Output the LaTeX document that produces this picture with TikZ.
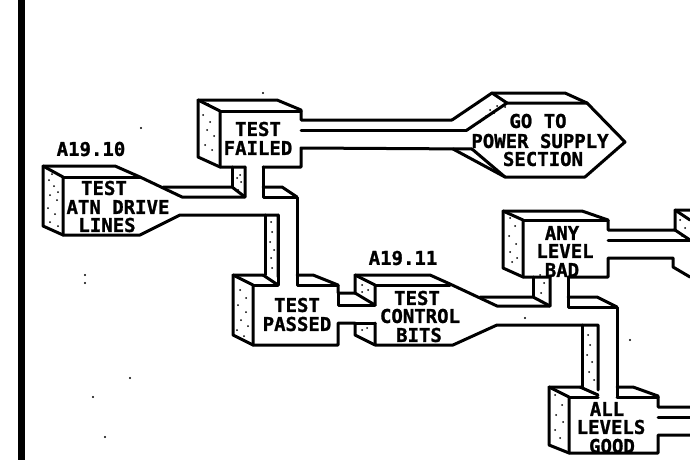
\documentclass[tikz,border=0pt]{standalone}
\usepackage{fontspec}
\setmonofont[BoldFeatures={FakeBold=1.2}]{DejaVu Sans Mono}
\usepackage{xcolor}
\usepackage{tikz}

\tikzset{
    wall/.style={line width=3pt, line join=round, line cap=round},
    lbl/.style={font=\ttfamily\bfseries\fontsize{19}{19}\selectfont, inner sep=0pt}
}

\begin{document}
\begin{tikzpicture}[x=1pt,y=-1pt]
    \useasboundingbox (0,0) rectangle (690,460);
    % Page edge
    \fill (18,0) rectangle (25,460);

    % Test atn drive lines
    \draw[wall] (245,167) -- (245,197) -- (182,197) -- (140,177) -- (115,166) -- (43,166) -- (43,226) -- (63,235) -- (140,235) -- (180,215) -- (278,215) -- (278,277);
    \draw[wall] (43,166) -- (63,177) -- (63,235);
    \draw[wall] (63,177) -- (140,177);
    \draw[wall] (163,187) -- (232,187) -- (245,197);
    \draw[wall] (232,187) -- (232,167);
    \draw[wall] (265,215) -- (265,275);

    % Test failed
    \draw[wall] (245,167) -- (220,167) -- (198,157) -- (198,100) -- (277,100) -- (301,110) -- (301,120) -- (452,120);
    \draw[wall] (198,100) -- (220,111) -- (220,167);
    \draw[wall] (220,111) -- (301,111);
    \draw[wall] (301,130) -- (467,130);
    \draw[wall] (263,167) -- (301,167) -- (301,148) -- (472,149);
    \draw[wall] (263,167) -- (263,197) -- (297,197) -- (297,277);
    \draw[wall] (263,187) -- (282,187) -- (297,197);

    % Go to power supply section
    \draw[wall] (452,120) -- (492,93) -- (565,93) -- (587,103) -- (625,142) -- (585,177) -- (505,177) -- (472,149);
    \draw[wall] (467,130) -- (507,103) -- (587,103);
    \draw[wall] (492,93) -- (507,103);
    \draw[wall] (453,149) -- (505,177);

    % Test passed
    \draw[wall] (263,275) -- (233,275) -- (233,335) -- (253,345) -- (338,345) -- (338,323) -- (355,323) -- (355,335) -- (375,345);
    \draw[wall] (233,275) -- (253,285) -- (253,345);
    \draw[wall] (253,285) -- (278,285);
    \draw[wall] (263,275) -- (278,285);
    \draw[wall] (297,275) -- (313,275) -- (338,285) -- (338,293) -- (355,293);
    \draw[wall] (297,275) -- (297,285) -- (338,285);
    \draw[wall] (338,293) -- (338,305) -- (375,305);
    \draw[wall] (278,215) -- (278,285);

    % Test control bits
    \draw[wall] (355,293) -- (355,275) -- (430,275) -- (450,284) -- (497,306) -- (550,306) -- (550,277);
    \draw[wall] (355,275) -- (375,285) -- (375,305);
    \draw[wall] (355,293) -- (375,305);
    \draw[wall] (375,285) -- (450,285);
    \draw[wall] (375,323) -- (375,345) -- (453,345) -- (497,325) -- (598,325) -- (598,390);
    \draw[wall] (355,323) -- (375,323);
    \draw[wall] (480,297) -- (533,297) -- (550,306);
    \draw[wall] (533,297) -- (533,277);
    \draw[wall] (582,325) -- (582,387);

    % Any level bad
    \draw[wall] (550,277) -- (523,277) -- (503,268) -- (503,211) -- (582,211) -- (608,220) -- (608,230) -- (675,230) -- (675,210) -- (690,210);
    \draw[wall] (503,211) -- (523,220) -- (523,277);
    \draw[wall] (523,220) -- (608,220);
    \draw[wall] (568,277) -- (608,277) -- (608,258) -- (673,258) -- (673,267) -- (690,277);
    \draw[wall] (608,240) -- (690,240);
    \draw[wall] (675,230) -- (690,240);
    \draw[wall] (675,210) -- (690,220);
    \draw[wall] (568,277) -- (568,307) -- (617,307) -- (617,397);
    \draw[wall] (568,297) -- (597,297) -- (617,307);

    % All levels good
    \draw[wall] (580,387) -- (549,387) -- (549,445) -- (569,453) -- (658,453) -- (658,435) -- (690,435);
    \draw[wall] (549,387) -- (569,397) -- (569,453);
    \draw[wall] (569,397) -- (598,397);
    \draw[wall] (580,387) -- (598,395);
    \draw[wall] (617,387) -- (633,387) -- (658,396) -- (658,407) -- (690,407);
    \draw[wall] (617,397) -- (658,397);
    \draw[wall] (658,417) -- (690,417);

    % Stipple on the side faces
    \foreach \x/\y in {49/180, 54/186, 50/195, 57/200, 48/208, 55/214, 50/222, 58/226, 52/174, 58/192,
        203/115, 210/122, 207/130, 214/136, 205/145, 212/150, 208/104, 214/108,
        238/190, 237/178, 241/182, 240/175,
        271/222, 272/232, 270/242, 274/250, 271/258, 272/268,
        240/290, 246/298, 238/305, 246/312, 241/320, 248/326, 237/330, 244/336,
        362/285, 368/290, 362/292,
        362/330, 367/328,
        510/218, 515/226, 509/236, 516/244, 510/252, 517/258, 512/262,
        540/275, 544/283, 541/293,
        588/335, 590/345, 587/355, 592/362, 589/372, 594/380,
        555/395, 562/405, 556/415, 563/422, 555/430, 560/438,
        680/220, 685/228, 682/236,
        490/110, 497/106, 486/116, 503/100, 494/113, 505/107, 480/122} {
        \fill (\x,\y) circle (1pt);
    }
    % Specks
    \foreach \x/\y in {141/128, 263/93, 85/275, 85/283, 130/378, 93/397, 105/437, 525/318, 630/340} {
        \fill (\x,\y) circle (1.2pt);
    }

    % Labels
    \foreach \n/\x/\y/\t in {atnref/91/149/A19.10, atna/104/188/TEST, atnb/118/207/ATN DRIVE, atnc/107/225/LINES,
        faila/258/129/TEST, failb/258/148/FAILED,
        powa/538/121/GO TO, powb/540/141/POWER SUPPLY, powc/543/159/SECTION,
        passa/297/305/TEST, passb/297/324/PASSED,
        ctlref/403/258/A19.11, ctla/417/298/TEST, ctlb/420/316/CONTROL, ctlc/419/335/BITS,
        anya/562/233/ANY, anyb/565/251/LEVEL, anyc/562/270/BAD,
        alla/607/409/ALL, allb/611/427/LEVELS, allc/612/446/GOOD} {
        \node[lbl] (\n) at (\x,\y) {\t};
    }
\end{tikzpicture}
\end{document}
